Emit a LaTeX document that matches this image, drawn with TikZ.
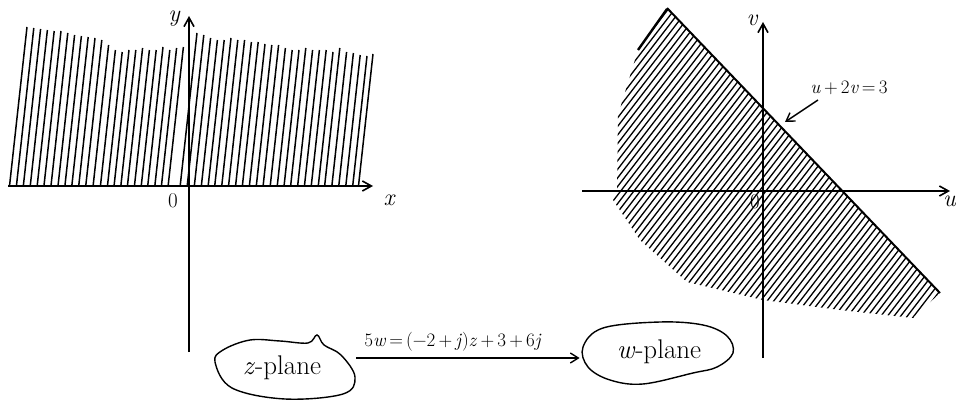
\documentclass[tikz,border=0pt]{standalone}
\usepackage{fontspec}
\usetikzlibrary{arrows.meta}
\begin{document}
\begin{tikzpicture}[x=1pt,y=-1pt,
  axis/.style={line width=1.8pt,-{Straight Barb[length=9pt,width=10pt,line width=1.6pt]}},
  hatch/.style={line width=1.5pt},
  blob/.style={line width=1.4pt},
  lbl/.style={inner sep=0pt,font=\fontsize{24}{28}\selectfont\itshape},
  olbl/.style={inner sep=0pt,font=\fontsize{21}{24}\selectfont},
  plabel/.style={inner sep=0pt,font=\fontsize{27}{31}\selectfont},
  eqlabel/.style={inner sep=0pt,font=\fontsize{19}{22}\selectfont},
  maparrow/.style={line width=1.5pt,-{Straight Barb[length=8pt,width=10pt,line width=1.4pt]}}]
\useasboundingbox (0,0) rectangle (956,401);

% ---------- z-plane ----------
\foreach \xt/\t in {27/27,33.8/28,40.6/29,47.4/30,54.2/31,61/31,67.8/33,74.6/35,81.4/36,88.2/37,95/38,101.8/40,108.6/45,115.4/50,122.2/52,129/50,135.8/50,142.6/48,149.4/50,156.2/50,163/47,169.8/50,176.6/48,183.4/47,197/33,203.8/35,210.6/38,217.4/40,224.2/40,231/38,237.8/40,244.6/40,251.4/42,258.2/42,265/44,271.8/45,278.6/45,285.4/48,292.2/50,299/50,305.8/48,312.6/50,319.4/50,326.2/50,333/52,339.8/48,346.6/52,353.4/53,360.2/55,367/56,373/54}
  \draw[hatch] ({\xt-0.11*(186-\t)},186) -- (\xt,\t);

\coordinate (xs) at (8,186);
\coordinate (xe) at (373,186);
\coordinate (ys) at (189,352);
\coordinate (ye) at (189,16);
\draw[axis] (xs) -- (xe);
\draw[axis] (ys) -- (ye);
\node[lbl] (xl) at (389,200) {x};
\node[lbl] (yl) at (174,19) {y};
\node[olbl] (ol) at (173,201) {0};

% ---------- w-plane ----------
\begin{scope}
  \clip (667,8) -- (940,293) -- (913,318) -- (840,310) -- (763,300) -- (687,282) -- (640,240) -- (613,200) -- (617,190) -- (618,115) -- (638,50) -- cycle;
  \foreach \k in {-40,...,65}
    \draw[hatch,line width=1.3pt] ({560+6.6*\k},330) -- ({560+6.6*\k+250},5);
\end{scope}
\coordinate (ls) at (667,8);
\coordinate (le) at (940,293);
\draw[line width=2pt] (ls) -- (le);
\draw[line width=2.4pt] (638,50) -- (667,9);

\coordinate (us) at (582,191);
\coordinate (ue) at (950,191);
\coordinate (vs) at (763,358);
\coordinate (ve) at (763,22);
\draw[axis] (us) -- (ue);
\draw[axis] (vs) -- (ve);
\node[lbl] (vl) at (752,20) {v};
\node[lbl,anchor=east] (ul) at (956,201) {u};
\node[olbl] (ol2) at (755,202) {0};

\node[eqlabel] (eq) at (849,88) {\textit{u}\,+\,2\textit{v}\,=\,3};
\coordinate (ltip) at (785,122);
\draw[maparrow] (818,100) -- (ltip);

% ---------- bottom ----------
\node[plabel] (zp) at (282,368) {\textit{z}-plane};
\node[plabel] (wp) at (659,352) {\textit{w}-plane};
\draw[blob] plot[smooth cycle,tension=0.6] coordinates {(215,362) (223,350) (250,340) (280,341) (308,343) (317,335) (324,345) (341,355) (355,377) (343,394) (285,399) (232,388)};
\draw[blob] plot[smooth cycle,tension=0.6] coordinates {(583,347) (603,328) (660,322) (703,325) (727,336) (733,353) (717,367) (693,373) (643,384) (610,380) (588,367)};
\path (zp.east) ++(35,-10) coordinate (as) (wp.west) ++(-37,6) coordinate (ae);
\draw[maparrow] (as) -- (ae);
\node[eqlabel,anchor=south] (map) at (453,351) {5\textit{w}\,=\,(−2\,+\,\textit{j})\textit{z}\,+\,3\,+\,6\textit{j}};
\end{tikzpicture}
\end{document}
